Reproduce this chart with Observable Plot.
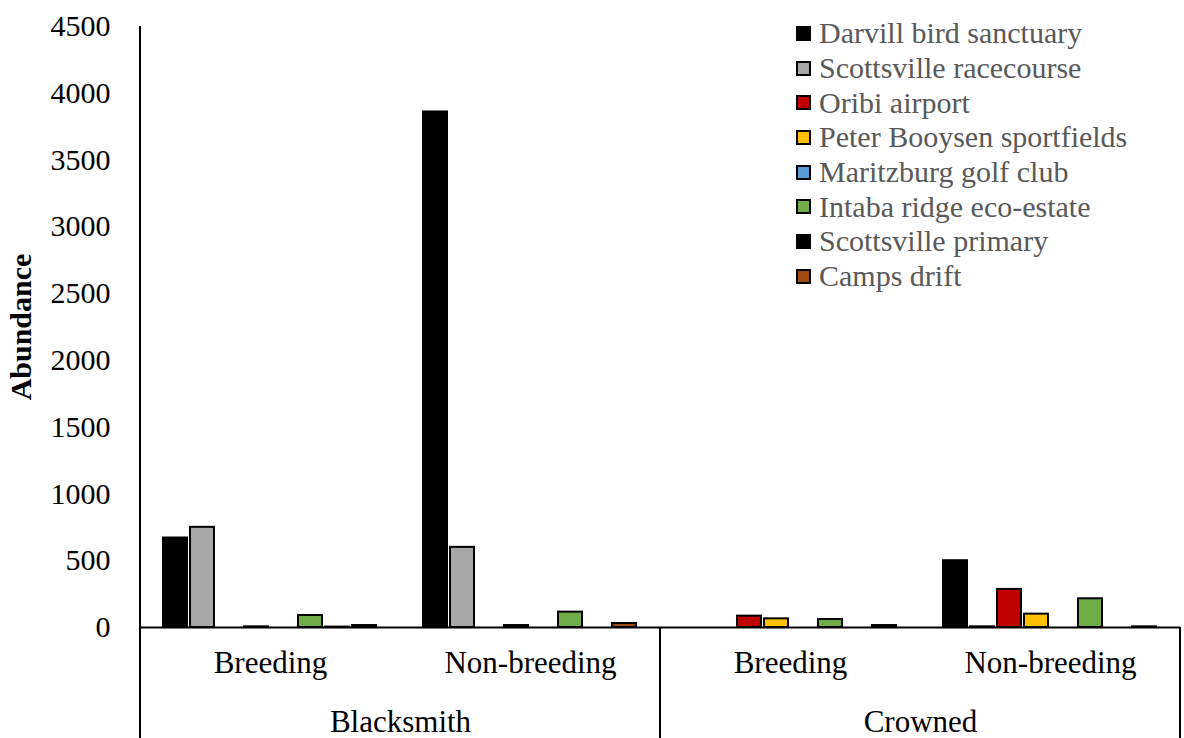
<!DOCTYPE html>
<html>
<head>
<meta charset="utf-8">
<script src="https://cdn.jsdelivr.net/npm/d3@7"></script>
<script src="https://cdn.jsdelivr.net/npm/@observablehq/plot@0.6"></script>
<style>
  body { margin: 0; background: #fff; }
  #wrap { position: relative; width: 1184px; height: 738px; font-family: "Liberation Serif", serif; }
  #wrap svg, #wrap svg text { font-family: "Liberation Serif", serif !important; }
  #legend { position: absolute; left: 796px; top: 16px; }
  .row { display: flex; align-items: center; height: 34.7px; }
  .sw { width: 11px; height: 11px; border: 2px solid #000; margin-right: 8px; box-sizing: content-box; }
  .lab { font-family: "Liberation Serif", serif; font-size: 30px; color: #595959; white-space: nowrap; line-height: 1; }
</style>
</head>
<body>
<div id="wrap"><div id="legend"></div></div>
<script>
const sites = ["Darvill bird sanctuary","Scottsville racecourse","Oribi airport","Peter Booysen sportfields","Maritzburg golf club","Intaba ridge eco-estate","Scottsville primary","Camps drift"];
const siteColors = ["#000000","#a6a6a6","#c00000","#ffc000","#5b9bd5","#70ad47","#000000","#9e4a10"];
const species = ["Blacksmith","Crowned"];
const seasons = ["Breeding","Non-breeding"];
const blacksmithBreeding    = [670, 750, 0, 5, 0, 90, 3, 15];
const blacksmithNonBreeding = [3860, 600, 0, 15, 0, 115, 0, 30];
const crownedBreeding       = [0, 0, 85, 65, 0, 60, 0, 15];
const crownedNonBreeding    = [500, 5, 285, 100, 0, 215, 0, 5];
const yTicks = [0, 500, 1000, 1500, 2000, 2500, 3000, 3500, 4000, 4500];

const seriesByGroup = [
  [species[0], seasons[0], blacksmithBreeding],
  [species[0], seasons[1], blacksmithNonBreeding],
  [species[1], seasons[0], crownedBreeding],
  [species[1], seasons[1], crownedNonBreeding]
];
const groupKeys = seriesByGroup.map(([s, z]) => s + "|" + z);
const rows = [];
seriesByGroup.forEach(([s, z, vals]) => vals.forEach((v, i) => rows.push({group: s + "|" + z, site: sites[i], value: v})));
const speciesRows = species.map(s => ({species: s, group: s + "|" + seasons[0]}));

const plot = Plot.plot({
  width: 1184, height: 738,
  marginLeft: 140, marginRight: 4, marginTop: 26, marginBottom: 111,
  style: "font-family: 'Liberation Serif', serif; background: white; color: black; overflow: visible;",
  fx: {domain: groupKeys, padding: 0},
  x: {domain: sites, paddingInner: 0.1, paddingOuter: 0.85, axis: null},
  y: {domain: [0, 4500]},
  color: {domain: sites, range: siteColors},
  marks: [
    Plot.barY(rows.filter(d => d.value > 0), {fx: "group", x: "site", y: "value", fill: "site", stroke: "black", strokeWidth: 2}),
    Plot.ruleY([0], {stroke: "black", strokeWidth: 2}),
    Plot.axisY({ticks: yTicks, tickFormat: d => String(d), tickSize: 0, tickPadding: 30, fontSize: 30, label: "Abundance", labelAnchor: "center", labelArrow: "none", labelOffset: 131}),
    Plot.axisFx({anchor: "bottom", tickSize: 0, tickPadding: 23, fontSize: 31, tickFormat: k => k.split("|")[1], label: null}),
    Plot.text(speciesRows, {fx: "group", text: "species", frameAnchor: "bottom-right", textAnchor: "middle", dy: 104, fontSize: 31})
  ]
});

document.getElementById("wrap").prepend(plot);

// structural lines drawn from the library's scales
const svg = d3.select(plot);
const fx = plot.scale("fx"), y = plot.scale("y");
const bw = fx.bandwidth;
const H = 738;
const lines = [
  [fx.apply(groupKeys[0]), y.apply(4500), fx.apply(groupKeys[0]), H],
  [fx.apply(groupKeys[1]) + bw, y.apply(0), fx.apply(groupKeys[1]) + bw, H],
  [fx.apply(groupKeys[3]) + bw, y.apply(0), fx.apply(groupKeys[3]) + bw, H]
];
svg.append("g").selectAll("line").data(lines).join("line")
  .attr("x1", d => d[0]).attr("y1", d => d[1]).attr("x2", d => d[2]).attr("y2", d => d[3])
  .attr("stroke", "black").attr("stroke-width", 2);

svg.selectAll("text").attr("font-family", "'Liberation Serif', serif").style("font-variant", "normal");
svg.selectAll('[aria-label="y-axis label"] text').attr("font-weight", "bold").attr("font-size", 30);

// legend
const legend = d3.select("#legend");
sites.forEach((s, i) => {
  const r = legend.append("div").attr("class", "row");
  r.append("div").attr("class", "sw").style("background", siteColors[i]);
  r.append("div").attr("class", "lab").text(s);
});
</script>
</body>
</html>
